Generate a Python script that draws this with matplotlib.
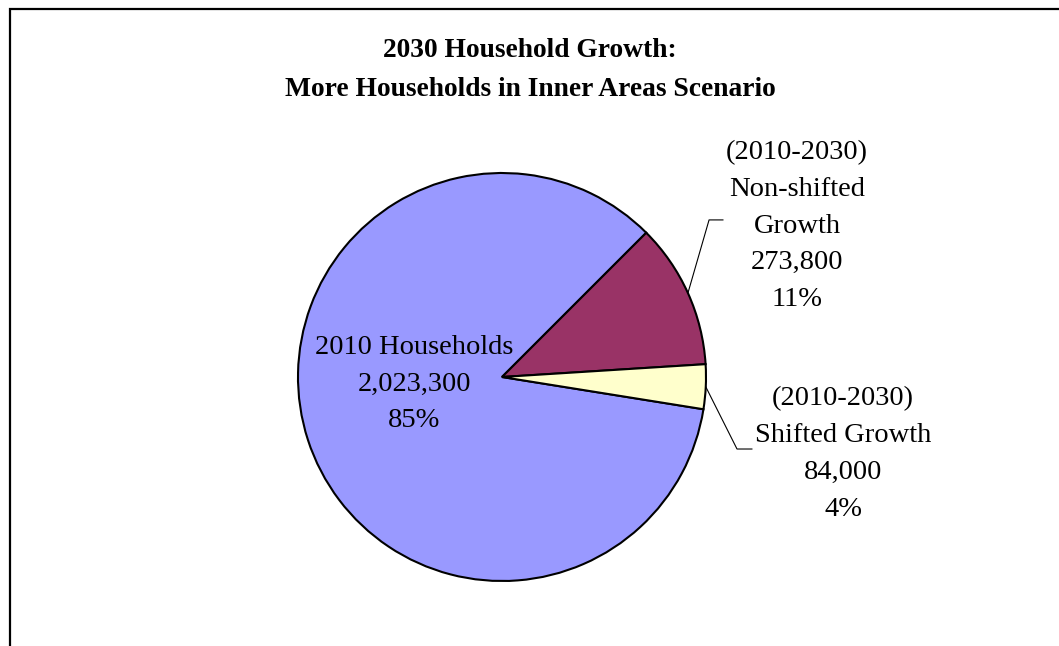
import numpy as np
import matplotlib.pyplot as plt
from matplotlib.patches import Rectangle

# 2010 base plus 2010-2030 growth, households
labels = ["2010 Households", "(2010-2030)\nNon-shifted\nGrowth", "(2010-2030)\nShifted Growth"]
households = [2023300, 273800, 84000]
colors = ["#9999FF", "#993366", "#FFFFCC"]

plt.rcParams['font.family'] = ['Liberation Serif', 'DejaVu Serif']

W, H = 1059, 646
fig = plt.figure(figsize=(W / 100, H / 100), dpi=100)

# chart border (open at the right and bottom)
fig.patches.append(Rectangle((10 / W, -0.1), 1.2, (H - 9) / H + 0.1,
                             transform=fig.transFigure, fill=False,
                             edgecolor='black', linewidth=1.6))

fig.text(530 / W, 1 - 70 / H, "2030 Household Growth:\nMore Households in Inner Areas Scenario",
         ha='center', va='center', fontsize=19.8, fontweight='bold', linespacing=1.78)

# pie: centre (502, 377) px, radius 204 px
r_px = 204
ax = fig.add_axes([(502 - r_px) / W, (H - 377 - r_px) / H, 2 * r_px / W, 2 * r_px / H])
total = sum(households)
start = 45 + 360 * households[0] / total
wedges, _ = ax.pie(households, colors=colors, startangle=start, counterclock=False,
                   wedgeprops=dict(edgecolor='black', linewidth=1.5))
ax.set_xlim(-1, 1)
ax.set_ylim(-1, 1)
ax.set_aspect('equal')
ax.axis('off')

pcts = [f"{round(100 * v / total)}%" for v in households]
texts = [f"{lab}\n{v:,}\n{p}" for lab, v, p in zip(labels, households, pcts)]

# label positions and leader bends in pie units
label_pos = [(-0.431, -0.035), (1.446, 0.740), (1.672, -0.378)]
bends = [None, ((1.015, 0.770), (1.083, 0.770)), ((1.152, -0.353), (1.225, -0.353))]

for w, txt, pos, bend in zip(wedges, texts, label_pos, bends):
    ax.text(pos[0], pos[1], txt, ha='center', va='center', fontsize=20.5,
            linespacing=1.62, clip_on=False)
    if bend is None:
        continue
    mid = np.deg2rad((w.theta1 + w.theta2) / 2)
    xs = [np.cos(mid), bend[0][0], bend[1][0]]
    ys = [np.sin(mid), bend[0][1], bend[1][1]]
    ax.plot(xs, ys, color='black', linewidth=0.8, clip_on=False)

fig.savefig("out.png", dpi=100)
